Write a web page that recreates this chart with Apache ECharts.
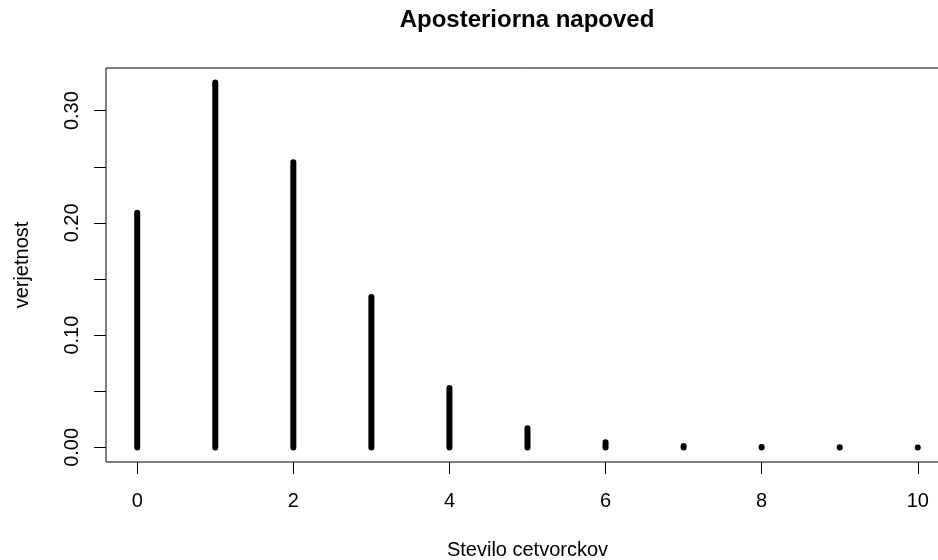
<!DOCTYPE html>
<html>
<head>
<meta charset="utf-8">
<style>
  html, body { margin: 0; padding: 0; background: #fff; }
  #chart { width: 938px; height: 560px; }
</style>
<script src="https://cdn.jsdelivr.net/npm/echarts@6/dist/echarts.min.js"></script>
</head>
<body>
<div id="chart"></div>
<script>
// Posterior predictive probabilities for the number of quadruplets
const counts = [0, 1, 2, 3, 4, 5, 6, 7, 8, 9, 10];
const probabilities = [0.209, 0.325, 0.254, 0.134, 0.053, 0.017, 0.0045, 0.0012, 0.0003, 0.00007, 0.00002];

// Axis ticks and labels
const xTickValues = [0, 2, 4, 6, 8, 10];
const yTickValues = [0, 0.05, 0.10, 0.15, 0.20, 0.25, 0.30];
const yLabelValues = [0, 0.10, 0.20, 0.30];

const FONT = 'Liberation Sans, Arial, Helvetica, sans-serif';

const chart = echarts.init(document.getElementById('chart'), null, { renderer: 'canvas' });

chart.setOption({
  animation: false,
  backgroundColor: '#fff',
  title: {
    text: 'Aposteriorna napoved',
    left: 522,
    top: 3,
    textAlign: 'center',
    textStyle: { fontFamily: FONT, fontSize: 24, fontWeight: 'bold', color: '#000' }
  },
  grid: {
    left: 106,
    top: 68,
    width: 843,
    height: 394,
    outerBoundsMode: 'none',
    containLabel: false,
    show: true,
    borderColor: '#000',
    borderWidth: 1,
    backgroundColor: 'transparent'
  },
  xAxis: {
    type: 'value',
    min: -0.4,
    max: 10.4,
    name: 'Stevilo cetvorckov',
    nameLocation: 'middle',
    nameGap: 78,
    nameTextStyle: { fontFamily: FONT, fontSize: 20, color: '#000' },
    axisLine: { show: false, onZero: false },
    splitLine: { show: false },
    axisTick: {
      show: true,
      length: 12,
      customValues: xTickValues,
      lineStyle: { color: '#000', width: 1 }
    },
    axisLabel: {
      customValues: xTickValues,
      margin: 29,
      fontFamily: FONT,
      fontSize: 20,
      color: '#000',
      formatter: v => String(v)
    }
  },
  yAxis: {
    type: 'value',
    min: -0.013,
    max: 0.338,
    name: 'verjetnost',
    nameLocation: 'middle',
    nameGap: 74,
    nameTextStyle: { fontFamily: FONT, fontSize: 20, color: '#000' },
    axisLine: { show: false, onZero: false },
    splitLine: { show: false },
    axisTick: {
      show: true,
      length: 12,
      customValues: yTickValues,
      lineStyle: { color: '#000', width: 1 }
    },
    axisLabel: {
      customValues: yLabelValues,
      rotate: 90,
      margin: 24,
      fontFamily: FONT,
      fontSize: 20,
      color: '#000',
      formatter: v => v.toFixed(2)
    }
  },
  series: [{
    type: 'custom',
    data: counts.map((c, i) => [c, probabilities[i]]),
    encode: { x: 0, y: 1 },
    renderItem: function (params, api) {
      const x = api.value(0);
      const y = api.value(1);
      const p0 = api.coord([x, 0]);
      const p1 = api.coord([x, y]);
      return {
        type: 'line',
        shape: { x1: p0[0], y1: p0[1], x2: p1[0], y2: p1[1] },
        style: { stroke: '#000', lineWidth: 6, lineCap: 'round' }
      };
    }
  }]
});
</script>
</body>
</html>
